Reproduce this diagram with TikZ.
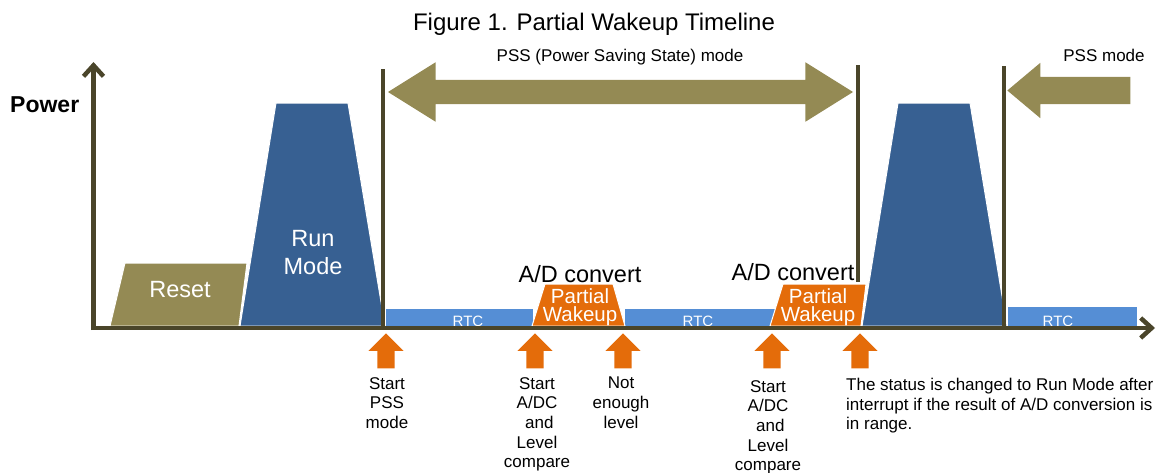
\documentclass[tikz,border=0pt]{standalone}
\usepackage{fontspec}
\setmainfont{Liberation Sans}
\usetikzlibrary{arrows.meta,shapes.arrows}

\definecolor{axisdark}{HTML}{4A452A}
\definecolor{pssolive}{HTML}{948A54}
\definecolor{runblue}{HTML}{376092}
\definecolor{rtcblue}{HTML}{558ED5}
\definecolor{wakeorange}{HTML}{E46C0A}

\tikzset{
  axis/.style={draw=axisdark,line width=4.5pt,-{Straight Barb[length=11pt,width=20pt]}},
  marker/.style={draw=axisdark,line width=3.5pt},
  resetblock/.style={fill=pssolive,draw=white,line width=1pt},
  runblock/.style={fill=runblue,draw=white,line width=1pt},
  wakeblock/.style={fill=wakeorange,draw=white,line width=1pt},
  rtcbar/.style={fill=rtcblue},
  blocktext/.style={text=white,inner sep=0,align=center,font=\fontsize{23.5}{28}\selectfont},
  waketext/.style={text=white,inner sep=0,align=center,font=\fontsize{20.5}{18.5}\selectfont},
  rtctext/.style={text=white,inner sep=0,anchor=base,font=\fontsize{15}{15}\selectfont},
  adtext/.style={inner sep=0,anchor=base,font=\fontsize{23.5}{24}\selectfont},
  note/.style={inner sep=0,anchor=north,align=center,font=\fontsize{17}{19.7}\selectfont},
  evtarrow/.style={single arrow,shape border rotate=90,fill=wakeorange,inner sep=8.5pt,
    single arrow head extend=9pt,single arrow tip angle=90,single arrow head indent=0pt,
    minimum height=35pt,anchor=tip},
  pssarrow/.style={fill=pssolive,inner sep=0pt}
}

\begin{document}
\begin{tikzpicture}[x=1pt,y=-1pt]
\useasboundingbox (0,0) rectangle (1164,472);

% title and axis label
\node[inner sep=0,anchor=base,font=\fontsize{24}{24}\selectfont] (title) at (594,30) {Figure 1. Partial Wakeup Timeline};
\node[inner sep=0,anchor=base west,font=\fontsize{23}{23}\selectfont\bfseries] (power) at (10,112) {Power};

% reset and run mode blocks
\path[resetblock] (110,326) -- (125,263) -- (247,263) -- (239,326) -- cycle;
\node[blocktext,anchor=base] (reset) at (180,297) {Reset};
\path[runblock] (240,326) -- (276,103) -- (348,103) -- (385,326) -- cycle;
\node[blocktext,anchor=north] (run) at (313,230) {Run\\Mode};

% RTC bars
\fill[rtcblue] (386,309) rectangle (533,326);
\fill[rtcblue] (625,309) rectangle (775,326);
\fill[rtcblue] (1008,307) rectangle (1137,326);
\node[rtctext] (rtc1) at (468,326) {RTC};
\node[rtctext] (rtc2) at (698,326) {RTC};
\node[rtctext] (rtc3) at (1058,326) {RTC};

% partial wakeups
\path[wakeblock] (532,326) -- (545,284) -- (613,284) -- (625,326) -- cycle;
\node[waketext,anchor=north] (wake1) at (580,288) {Partial\\Wakeup};
\node[adtext] (ad1) at (580,282) {A/D convert};
\path[wakeblock] (770,326) -- (783,284) -- (866,284) -- (861,326) -- cycle;
\node[waketext,anchor=north] (wake2) at (818,288) {Partial\\Wakeup};
\node[adtext] (ad2) at (793,280) {A/D convert};

% second run mode
\path[runblock] (862,326) -- (898,103) -- (970,103) -- (1007,326) -- cycle;

% PSS markers
\coordinate (m1top) at (383,69);
\coordinate (m1bot) at (383,327);
\coordinate (m2top) at (858,65);
\coordinate (m2bot) at (858,282);
\coordinate (m3top) at (1004,66);
\coordinate (m3bot) at (1004,326);
\draw[marker] (m1top) -- (m1bot);
\draw[marker] (m2top) -- (m2bot);
\draw[marker] (m3top) -- (m3bot);

\node[pssarrow,double arrow,minimum height=465pt,inner sep=12pt,double arrow head extend=17.5pt,
  double arrow tip angle=64,double arrow head indent=0pt] (pss) at (620.5,92) {};
\node[inner sep=0,anchor=base,font=\fontsize{17}{17}\selectfont] (psstext) at (620,61) {PSS (Power Saving State) mode};
\node[pssarrow,single arrow,shape border rotate=180,minimum height=123pt,inner sep=13.5pt,
  single arrow head extend=14pt,single arrow tip angle=80,single arrow head indent=0pt,anchor=tip] (pssback) at (1007,90.5) {};
\node[inner sep=0,anchor=base,font=\fontsize{17}{17}\selectfont] (pssmode) at (1104,61) {PSS mode};

% axes
\coordinate (origin) at (91,328);
\coordinate (ytop) at (93.5,62);
\coordinate (xend) at (1155,328);
\draw[axis] (93.5,330) -- (ytop);
\draw[axis] (origin) -- (xend);

% events
\node[evtarrow] (e1) at (386,333) {};
\node[evtarrow] (e2) at (535,333) {};
\node[evtarrow] (e3) at (623,333) {};
\node[evtarrow] (e4) at (772,333) {};
\node[evtarrow] (e5) at (860,333) {};
\node[note] (n1) at (387,377) {Start\\PSS\\mode};
\node[note] (n2) at (537,377) {Start\\A/DC\\\ and\\Level\\compare};
\node[note] (n3) at (621,377) {Not\\enough\\level};
\node[note] (n4) at (768,380) {Start\\A/DC\\\ and\\Level\\compare};
\node[note,anchor=north west,align=left] (n5) at (846,378) {The status is changed to Run Mode after\\interrupt if the result of A/D conversion is\\in range.};
\end{tikzpicture}
\end{document}
